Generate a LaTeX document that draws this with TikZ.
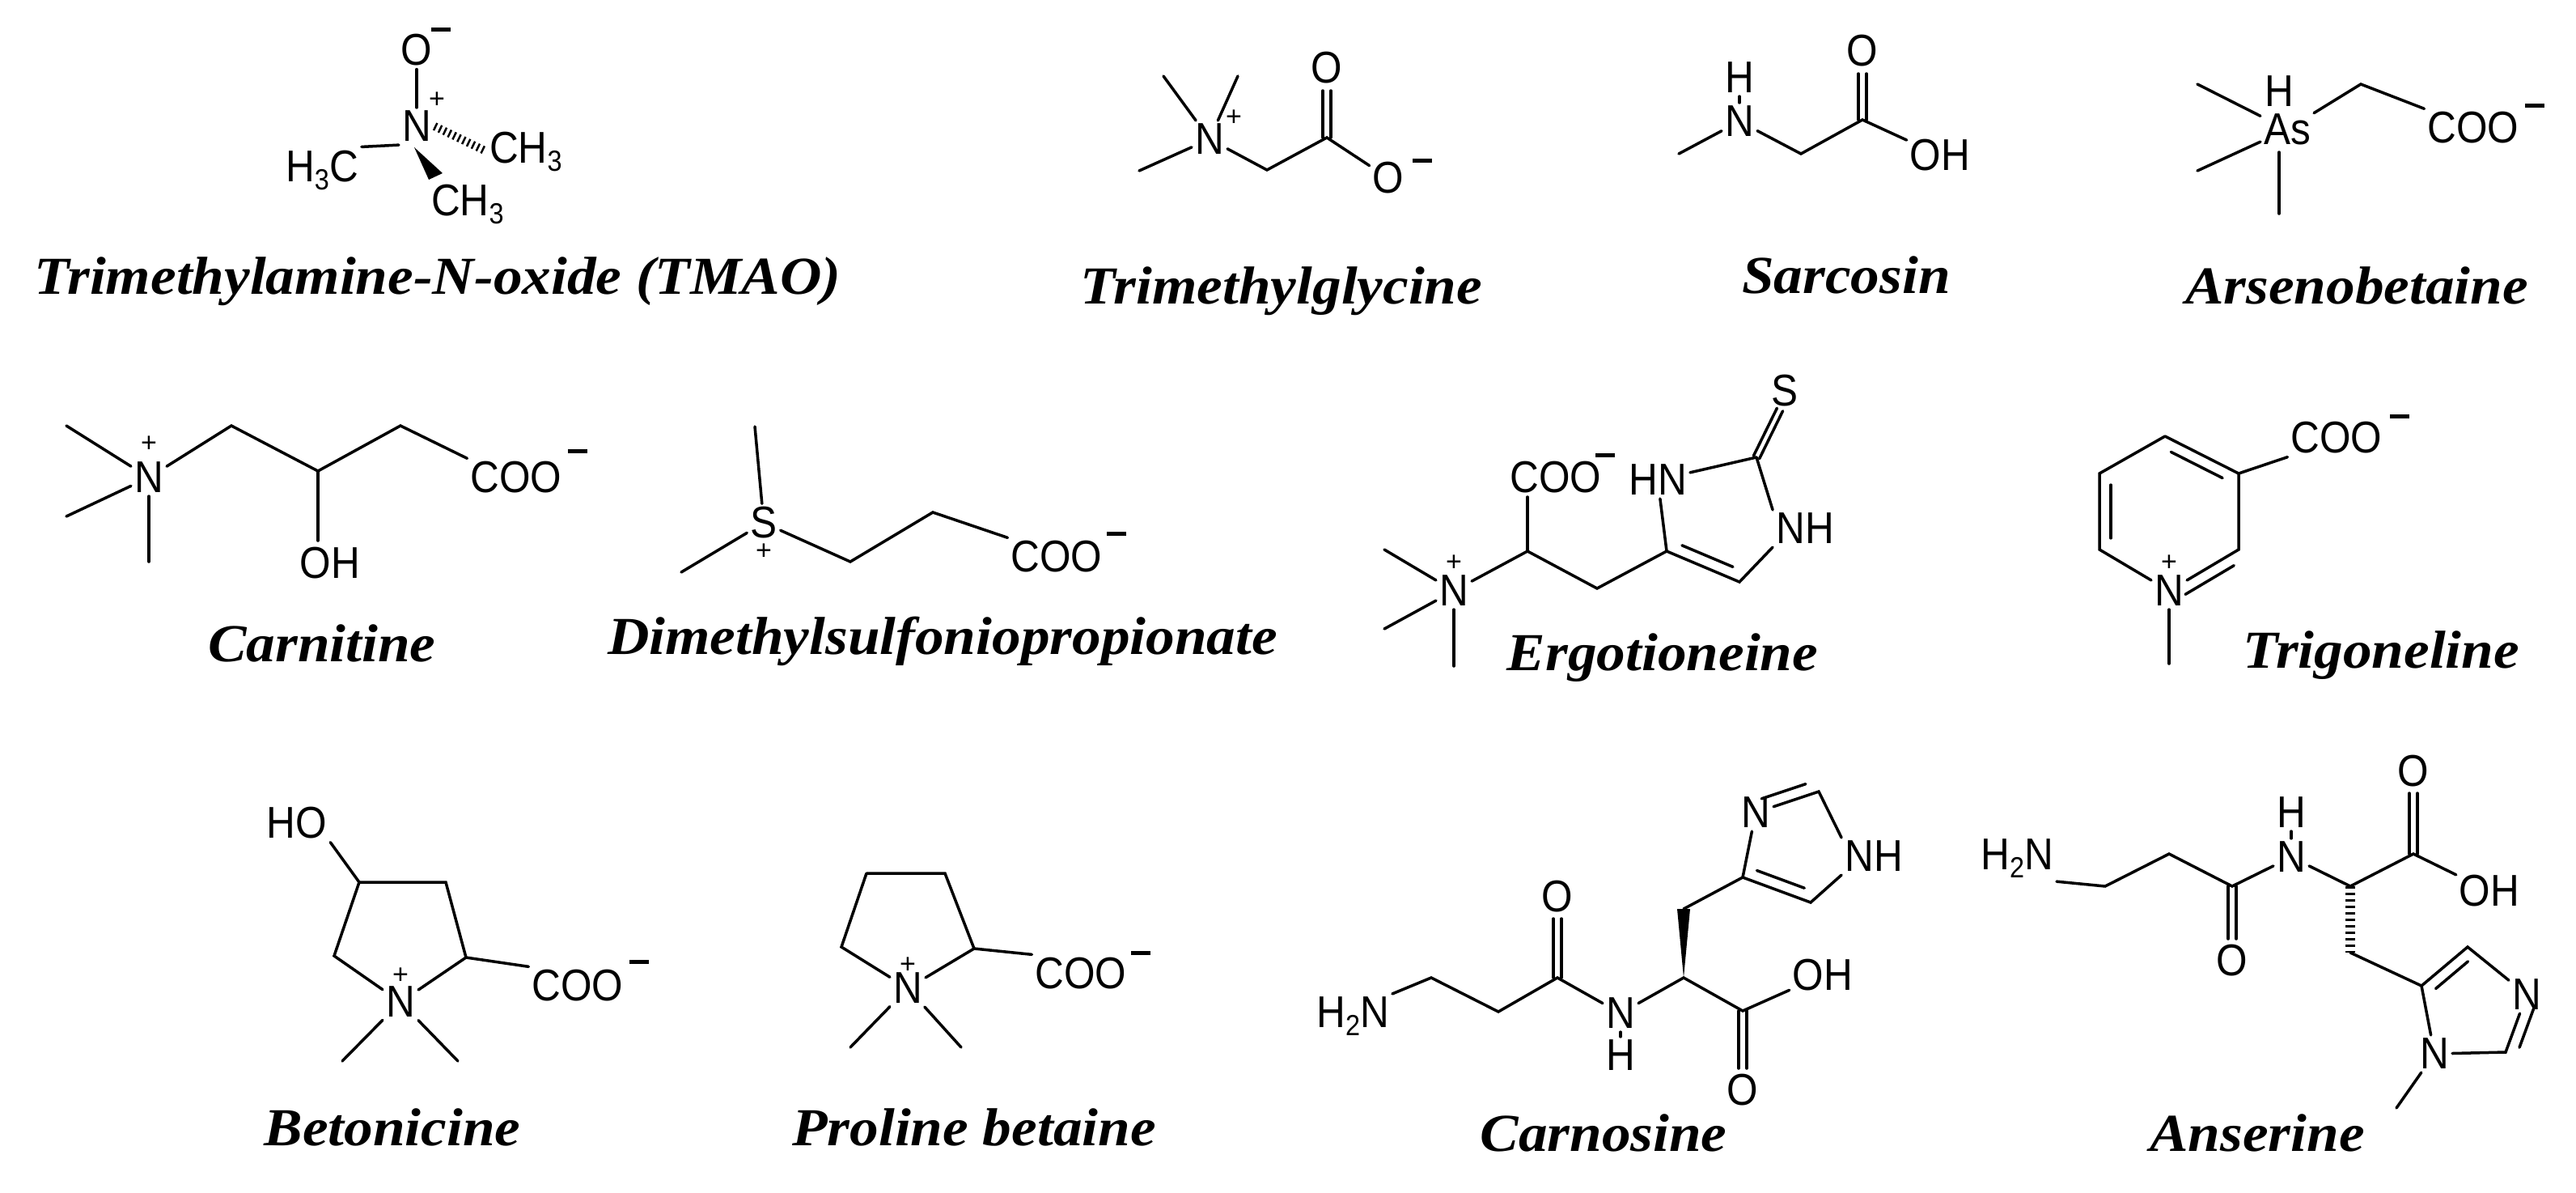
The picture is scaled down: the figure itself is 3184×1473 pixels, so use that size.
\documentclass[tikz,border=0pt]{standalone}
\usepackage{fontspec}
\usetikzlibrary{calc}
\newfontfamily\atomfam{Liberation Sans}
\newfontfamily\labfam{Liberation Serif}
\newcommand\atomfont{\atomfam\fontsize{55}{55}\selectfont}
\newcommand\chgfont{\atomfam\fontsize{34}{34}\selectfont}
\newcommand\labfont{\labfam\bfseries\itshape\fontsize{66}{66}\selectfont}
\newcommand\sub[1]{\raisebox{-10pt}{\fontsize{36}{36}\selectfont #1}}
\newcommand\mn{\rule[0pt]{24pt}{5pt}}
\newcommand\dbond[3]{\draw[bond] ($(#1)!#3!90:(#2)$) -- ($(#2)!#3!-90:(#1)$); \draw[bond] ($(#1)!#3!-90:(#2)$) -- ($(#2)!#3!90:(#1)$);}
\newcommand\innerb[4]{\draw[bond] ($(#1)!.15!(#2)!14pt!#3:(#2)$) -- ($(#2)!.15!(#1)!14pt!#4:(#1)$);}
\newcommand\lbl[1]{\scalebox{1.08}[1]{#1}}
\newcommand\at[1]{\scalebox{0.9}[1]{#1}}
\begin{document}
\begin{tikzpicture}[x=1pt,y=-1pt,
  atom/.style={font=\atomfont,inner sep=4pt},
  chg/.style={font=\chgfont,inner sep=0pt},
  bond/.style={line width=3.5pt,line cap=round},
  lab/.style={font=\labfont,inner sep=0pt}]
\useasboundingbox (0,0) rectangle (3184,1473);
\fill[white] (0,0) rectangle (3184,1473);
% ---------- TMAO
\node[atom] (tO) at (515,62) {\at{O}};
\node[chg] (tOm) at (545,36) {\mn};
\node[atom] (tN) at (515,156) {\at{N}};
\node[chg] (tNp) at (540,124) {+};
\node[atom] (tC1) at (398,210) {\at{H\sub{3}C}};
\node[atom] (tC2) at (650,187) {\at{CH\sub{3}}};
\node[atom] (tC3) at (578,252) {\at{CH\sub{3}}};
\draw[bond] (tO) -- (tN);
\draw[bond] (tN.south west) -- (tC1.north east);
\draw[line width=10pt,dash pattern=on 2.5pt off 4pt] (tN.east) -- (tC2.west);
\fill (512,182) -- (530,222) -- (547,214) -- cycle;
\node[lab] (L1) at (541,348) {\lbl{Trimethylamine-N-oxide (TMAO)}};
% ---------- Trimethylglycine
\node[atom] (gN) at (1495,172) {\at{N}};
\node[chg] at (1525,146) {+};
\coordinate (g1) at (1438,94); \coordinate (g2) at (1530,94);
\coordinate (g3) at (1408,211); \coordinate (g4) at (1566,210);
\coordinate (g5) at (1640,170);
\node[atom] (gO) at (1640,84) {\at{O}};
\node[atom] (gOm) at (1716,220) {\at{O}};
\node[chg] at (1758,198) {\mn};
\draw[bond] (gN) -- (g1); \draw[bond] (gN) -- (g2); \draw[bond] (gN) -- (g3);
\draw[bond] (gN) -- (g4) -- (g5) -- (gOm);
\coordinate (g6) at (1640,112);
\dbond{g5}{g6}{5pt}
\node[lab] (L2) at (1584,360) {\lbl{Trimethylglycine}};
% ---------- Sarcosin
\node[atom] (sN) at (2150,150) {\at{N}};
\node[atom] (sH) at (2150,96) {\at{H}};
\coordinate (s1) at (2075,190); \coordinate (s2) at (2226,190); \coordinate (s3) at (2302,148);
\node[atom] (sO) at (2302,63) {\at{O}};
\node[atom] (sOH) at (2398,192) {\at{OH}};
\draw[bond] (sN) -- (sH);
\draw[bond] (sN) -- (s1); \draw[bond] (sN) -- (s2) -- (s3) -- (sOH);
\coordinate (s4) at (2302,91);
\dbond{s3}{s4}{5pt}
\node[lab] (L3) at (2282,340) {\lbl{Sarcosin}};
% ---------- Arsenobetaine
\node[atom] (aAs) at (2827,160) {\at{As}};
\node[atom,inner sep=0pt] (aH) at (2817,113) {\at{H}};
\coordinate (a1) at (2716,104); \coordinate (a2) at (2716,211); \coordinate (a3) at (2817,264);
\coordinate (a4) at (2918,104);
\node[atom] (aC) at (3057,158) {\at{COO}};
\node[chg] at (3133,130) {\mn};
\draw[bond] (a1) -- (aAs); \draw[bond] (a2) -- (aAs); \draw[bond] (a3) -- (2817,188);
\draw[bond] (aAs) -- (a4) -- (aC.north west);
\node[lab] (L4) at (2913,353) {\lbl{Arsenobetaine}};
% ---------- Carnitine
\node[atom] (cN) at (184,590) {\at{N}};
\node[chg] at (184,549) {+};
\coordinate (c1) at (82,526); \coordinate (c2) at (82,638); \coordinate (c3) at (184,694);
\coordinate (c4) at (286,526); \coordinate (c5) at (393,582); \coordinate (c6) at (495,526);
\node[atom] (cC) at (638,590) {\at{COO}};
\node[chg] at (714,557) {\mn};
\node[atom] (cOH) at (408,696) {\at{OH}};
\draw[bond] (c1) -- (cN); \draw[bond] (c2) -- (cN); \draw[bond] (cN) -- (c3);
\draw[bond] (cN) -- (c4) -- (c5) -- (c6) -- (cC.north west);
\draw[bond] (c5) -- (393,668);
\node[lab] (L5) at (398,795) {\lbl{Carnitine}};
% ---------- DMSP
\node[atom] (dS) at (944,646) {\at{S}};
\node[chg] at (944,682) {+};
\coordinate (d1) at (933,527); \coordinate (d2) at (842,707);
\coordinate (d3) at (1051,694); \coordinate (d4) at (1153,633);
\node[atom] (dC) at (1306,688) {\at{COO}};
\node[chg] at (1380,659) {\mn};
\draw[bond] (d1) -- (dS); \draw[bond] (d2) -- (dS);
\draw[bond] (dS) -- (d3) -- (d4) -- (dC.north west);
\node[lab] (L6) at (1165,792) {\lbl{Dimethylsulfoniopropionate}};
% ---------- Ergothioneine
\node[atom] (eN) at (1797,730) {\at{N}};
\node[chg] at (1797,696) {+};
\coordinate (e1) at (1711,679); \coordinate (e2) at (1711,777); \coordinate (e3) at (1797,823);
\coordinate (e4) at (1888,681);
\node[atom] (eC) at (1923,590) {\at{COO}};
\node[chg] at (1984,562) {\mn};
\coordinate (e5) at (1974,727); \coordinate (e6) at (2060,681);
\node[atom] (eHN) at (2049,593) {\at{HN}};
\coordinate (e7) at (2171,565);
\node[atom] (eS) at (2206,483) {\at{S}};
\node[atom] (eNH) at (2231,653) {\at{NH}};
\coordinate (e8) at (2150,719);
\draw[bond] (e1) -- (eN); \draw[bond] (e2) -- (eN); \draw[bond] (eN) -- (e3);
\draw[bond] (eN) -- (e4) -- (e5) -- (e6);
\draw[bond] (e4) -- (1888,614);
\draw[bond] (e6) -- (eHN); \draw[bond] (eHN) -- (e7); \draw[bond] (e7) -- (eNH.north west);
\draw[bond] (eNH.south west) -- (e8) -- (e6);
\innerb{e6}{e8}{90}{-90}
\coordinate (e9) at (2200,506);
\dbond{e7}{e9}{4pt}
\node[lab] (L7) at (2055,813) {\lbl{Ergotioneine}};
% ---------- Trigoneline
\node[atom] (rN) at (2681,730) {\at{N}};
\node[chg] at (2681,696) {+};
\coordinate (r1) at (2676,539); \coordinate (r2) at (2595,585); \coordinate (r3) at (2595,679);
\coordinate (r5) at (2767,679); \coordinate (r6) at (2767,585);
\node[atom] (rC) at (2888,541) {\at{COO}};
\node[chg] at (2966,514) {\mn};
\draw[bond] (r1) -- (r2) -- (r3) -- (rN) -- (r5) -- (r6) -- (r1);
\draw[bond] (r6) -- (rC.south west);
\draw[bond] (rN) -- (2681,820);
\innerb{r1}{r6}{-90}{90}
\innerb{r2}{r3}{90}{-90}
\innerb{rN}{r5}{-90}{90}
\node[lab] (L8) at (2943,810) {\lbl{Trigoneline}};
% ---------- Betonicine
\node[atom] (bHO) at (367,1017) {\at{HO}};
\coordinate (b4) at (444,1090); \coordinate (b3) at (551,1090);
\coordinate (b2) at (576,1183); \coordinate (b5) at (413,1181);
\node[atom] (bN) at (495,1238) {\at{N}};
\node[chg] at (495,1206) {+};
\node[atom] (bC) at (714,1218) {\at{COO}};
\node[chg] at (790,1188) {\mn};
\draw[bond] (bHO.south east) -- (b4);
\draw[bond] (b4) -- (b3) -- (b2) -- (bN) -- (b5) -- (b4);
\draw[bond] (b2) -- (bC.north west);
\draw[bond] (bN) -- (423,1311); \draw[bond] (bN) -- (566,1311);
\node[lab] (L9) at (485,1393) {\lbl{Betonicine}};
% ---------- Proline betaine
\coordinate (p4) at (1071,1079); \coordinate (p3) at (1168,1079);
\coordinate (p2) at (1204,1172); \coordinate (p5) at (1040,1170);
\node[atom] (pN) at (1122,1221) {\at{N}};
\node[chg] at (1122,1193) {+};
\node[atom] (pC) at (1336,1203) {\at{COO}};
\node[chg] at (1410,1177) {\mn};
\draw[bond] (p4) -- (p3) -- (p2) -- (pN) -- (p5) -- (p4);
\draw[bond] (p2) -- (pC.north west);
\draw[bond] (pN) -- (1051,1294); \draw[bond] (pN) -- (1188,1294);
\node[lab] (L10) at (1204,1393) {\lbl{Proline betaine}};
% ---------- Carnosine
\node[atom] (kH2N) at (1672,1256) {\at{H\sub{2}N}};
\coordinate (k1) at (1769,1208); \coordinate (k2) at (1852,1250); \coordinate (k3) at (1925,1208);
\node[atom] (kO1) at (1925,1108) {\at{O}};
\node[atom] (kN) at (2003,1252) {\at{N}};
\node[atom] (kH) at (2003,1304) {\at{H}};
\coordinate (k4) at (2081,1208); \coordinate (k5) at (2154,1249);
\node[atom] (kO2) at (2154,1347) {\at{O}};
\node[atom] (kOH) at (2253,1205) {\at{OH}};
\coordinate (k6) at (2081,1123); \coordinate (k7) at (2154,1084);
\node[atom] (kNr) at (2170,1004) {\at{N}};
\coordinate (k8) at (2248,978);
\node[atom] (kNH) at (2316,1058) {\at{NH}};
\coordinate (k9) at (2238,1115);
\draw[bond] (kH2N.north east) -- (k1) -- (k2) -- (k3) -- (kN) -- (k4) -- (k5) -- (kOH);
\draw[bond] (kN) -- (kH);
\coordinate (ko1) at (1925,1135); \dbond{k3}{ko1}{5pt}
\coordinate (ko2) at (2154,1320); \dbond{k5}{ko2}{5pt}
\fill (2081,1208) -- (2073,1123) -- (2089,1123) -- cycle;
\draw[bond] (k6) -- (k7) -- (kNr);
\draw[bond] (kNr) -- (k8) -- (kNH.north west);
\draw[bond] (kNH.south west) -- (k9) -- (k7);
\innerb{kNr}{k8}{90}{-90}
\innerb{k7}{k9}{90}{-90}
\node[lab] (L11) at (1982,1400) {\lbl{Carnosine}};
% ---------- Anserine
\node[atom] (nH2N) at (2493,1061) {\at{H\sub{2}N}};
\coordinate (n1) at (2602,1095); \coordinate (n2) at (2681,1055); \coordinate (n3) at (2759,1095);
\node[atom] (nO1) at (2759,1187) {\at{O}};
\node[atom] (nN) at (2832,1059) {\at{N}};
\node[atom] (nH) at (2832,1004) {\at{H}};
\coordinate (n4) at (2905,1095); \coordinate (n5) at (2983,1055);
\node[atom] (nO2) at (2983,953) {\at{O}};
\node[atom] (nOH) at (3077,1101) {\at{OH}};
\coordinate (n6) at (2905,1177); \coordinate (n7) at (2993,1218);
\coordinate (n8) at (3050,1170);
\node[atom] (nN3) at (3123,1229) {\at{N}};
\coordinate (n9) at (3097,1300);
\node[atom] (nN1) at (3009,1302) {\at{N}};
\draw[bond] (nH2N.south east) -- (n1) -- (n2) -- (n3) -- (nN) -- (n4) -- (n5) -- (nOH);
\draw[bond] (nN) -- (nH);
\coordinate (no1) at (2759,1160); \dbond{n3}{no1}{5pt}
\coordinate (no2) at (2983,980); \dbond{n5}{no2}{5pt}
\draw[line width=12pt,dash pattern=on 3pt off 5pt] (n4) -- (n6);
\draw[bond] (n6) -- (n7) -- (n8) -- (nN3) -- (n9) -- (nN1) -- (n7);
\innerb{n7}{n8}{-90}{90}
\innerb{nN3}{n9}{90}{-90}
\draw[bond] (nN1) -- (2962,1369);
\node[lab] (L12) at (2790,1400) {\lbl{Anserine}};
\end{tikzpicture}
\end{document}
